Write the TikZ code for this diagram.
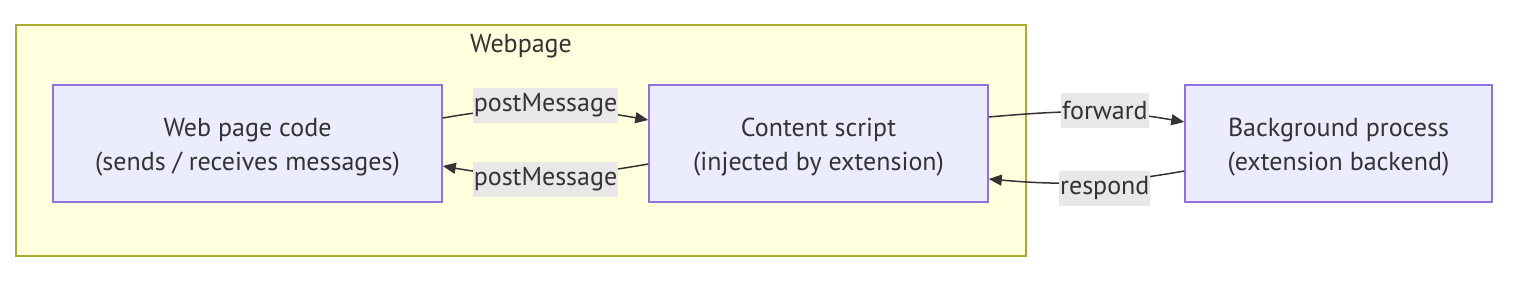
\documentclass[tikz,border=0pt]{standalone}
\usepackage{fontspec}
\setmainfont{PT Sans}
\usetikzlibrary{arrows.meta}
\definecolor{boxfill}{HTML}{ECECFF}
\definecolor{boxline}{HTML}{9370DB}
\definecolor{groupfill}{HTML}{FFFFDE}
\definecolor{groupline}{HTML}{AAAA33}
\definecolor{ink}{HTML}{333333}
\definecolor{labelfill}{HTML}{E8E8E8}
\newcommand{\toprow}{\rule{0pt}{25pt}}
\begin{document}
\begin{tikzpicture}[
    x=1pt, y=1pt,
    font=\fontsize{26}{34}\selectfont,
    block/.style={rectangle, draw=boxline, fill=boxfill, line width=1.5pt, text=ink, align=center, minimum height=117pt, inner sep=0pt},
    group/.style={draw=groupline, fill=groupfill, line width=1.5pt},
    msg/.style={fill=labelfill, text=ink, inner xsep=1pt, inner ysep=0pt, minimum height=35pt},
    arrow/.style={draw=ink, line width=1.5pt, -{Triangle[length=13pt,width=11pt]}}
]
    \useasboundingbox (0,0) rectangle (1518,-282);
    \draw [group] (16,-25) rectangle (1026,-256);
    \node (webpage) [text=ink] at (521,-46) {Webpage};

    \node (web) [block, minimum width=389pt] at (247.5,-143.5) {\toprow Web page code\\(sends / receives messages)};
    \node (content) [block, minimum width=339pt] at (818.5,-143.5) {\toprow Content script\\(injected by extension)};
    \node (bg) [block, minimum width=307pt] at (1338.5,-143.5) {\toprow Background process\\(extension backend)};

    \draw [arrow] ([yshift=25.5]web.east) to[out=10,in=170] node[msg, yshift=3] {postMessage} ([yshift=23.5]content.west);
    \draw [arrow] ([yshift=-20.5]content.west) to[out=190,in=350] node[msg, yshift=-4] {postMessage} ([yshift=-22.5]web.east);
    \draw [arrow] ([yshift=26.5]content.east) to[out=5,in=170] node[msg, pos=0.6, yshift=2] {forward} ([yshift=21.5]bg.west);
    \draw [arrow] ([yshift=-27.5]bg.west) to[out=190,in=355] node[msg, pos=0.4, yshift=-7] {respond} ([yshift=-35.5]content.east);
\end{tikzpicture}
\end{document}
